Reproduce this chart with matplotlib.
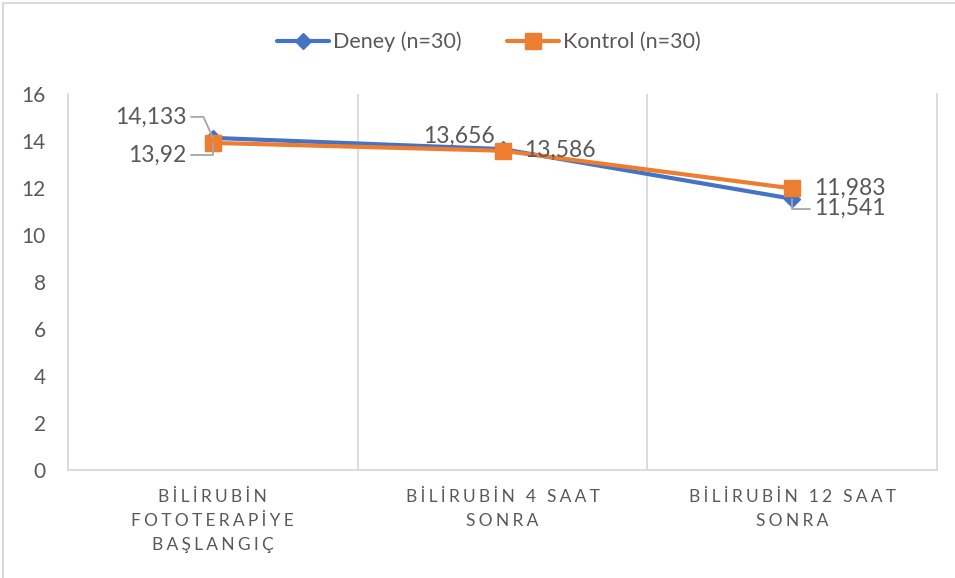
import matplotlib
matplotlib.use("Agg")
import matplotlib.pyplot as plt
from matplotlib.patches import Rectangle

# Bilirubin measurements (mean values)
categories = ["BİLİRUBİN\nFOTOTERAPİYE\nBAŞLANGIÇ",
              "BİLİRUBİN 4 SAAT\nSONRA",
              "BİLİRUBİN 12 SAAT\nSONRA"]
deney = [14.133, 13.656, 11.541]
kontrol = [13.92, 13.586, 11.983]
series_names = ["Deney (n=30)", "Kontrol (n=30)"]
y_ticks = [0, 2, 4, 6, 8, 10, 12, 14, 16]

BLUE = "#4472C4"
ORANGE = "#ED7D31"
TEXT = "#595959"
GRID = "#D9D9D9"

plt.rcParams["font.family"] = ["Lato", "DejaVu Sans"]

W, H = 955, 578
fig = plt.figure(figsize=(W / 100, H / 100), dpi=100)
ax = fig.add_axes([68 / W, (H - 470) / H, (937 - 68) / W, (470 - 94) / H])

GAP = "\u2009\u200a"


def spaced(label):
    # widen letter spacing of the category captions
    out = []
    for line in label.split("\n"):
        words = [GAP.join(w) for w in line.split(" ")]
        out.append((GAP + " " + GAP).join(words))
    return "\n".join(out)


x = list(range(len(categories)))
ax.plot(x, deney, color=BLUE, lw=3.0, marker="D", ms=8, mfc=BLUE, mec=BLUE,
        label=series_names[0], zorder=3, solid_capstyle="round")
ax.plot(x, kontrol, color=ORANGE, lw=3.0, marker="s", ms=11, mfc=ORANGE, mec=ORANGE,
        label=series_names[1], zorder=4, solid_capstyle="round")

ax.set_xlim(-0.5, len(categories) - 0.5)
ax.set_ylim(0, 16)
ax.set_yticks(y_ticks)
ax.set_yticklabels([str(t) for t in y_ticks])
ax.set_xticks(x)
ax.set_xticklabels([spaced(c) for c in categories], fontsize=12.5, color=TEXT,
                   linespacing=1.6)
ax.tick_params(axis="x", length=0, pad=14)
ax.tick_params(axis="y", length=0, pad=16, labelsize=15, labelcolor=TEXT)

# category separators
for b in [0.5, 1.5]:
    ax.axvline(b, color=GRID, lw=1.3, zorder=1)
ax.spines["top"].set_visible(False)
for side in ["left", "right", "bottom"]:
    ax.spines[side].set_color(GRID)
    ax.spines[side].set_linewidth(1.3)


def fmt(v):
    return f"{v:g}".replace(".", ",")


lab_kw = dict(textcoords="offset pixels", fontsize=16.5, color=TEXT, zorder=5)
lead = dict(arrowstyle="-", color="#A6A6A6", lw=1.3, shrinkA=1, shrinkB=0)

# start point labels
ax.annotate(fmt(deney[0]), xy=(0, deney[0]), xytext=(-26, 21), ha="right", va="center",
            arrowprops=dict(lead, connectionstyle="angle,angleA=0,angleB=114,rad=0",
                            relpos=(1, 0.5)), **lab_kw)
ax.annotate(fmt(kontrol[0]), xy=(0, kontrol[0]), xytext=(-26, -12), ha="right", va="center",
            arrowprops=dict(lead, connectionstyle="angle,angleA=0,angleB=90,rad=0",
                            relpos=(1, 0.5)), **lab_kw)
# 4 h labels
ax.annotate(fmt(deney[1]), xy=(1, deney[1]), xytext=(-8, 13), ha="right", va="center",
            **lab_kw)
ax.annotate(fmt(kontrol[1]), xy=(1, kontrol[1]), xytext=(22, 0), ha="left", va="center",
            **lab_kw)
# 12 h labels
ax.annotate(fmt(kontrol[2]), xy=(2, kontrol[2]), xytext=(22, 0), ha="left", va="center",
            **lab_kw)
ax.annotate(fmt(deney[2]), xy=(2, deney[2]), xytext=(22, -10), ha="left", va="center",
            arrowprops=dict(lead, connectionstyle="angle,angleA=180,angleB=90,rad=0",
                            relpos=(0, 0.5)), **lab_kw)

fig.legend(loc="center", bbox_to_anchor=(489 / W, 1 - 42 / H), ncol=2, frameon=False,
           fontsize=15.5, labelcolor=TEXT, handlelength=2.4, handletextpad=0.2,
           columnspacing=2.1)

# chart area border
fig.add_artist(Rectangle((3 / W, -0.2), 1.5, 1.2 - 3 / H, transform=fig.transFigure,
                         fill=False, edgecolor=GRID, lw=1.5))

fig.savefig("out.png", dpi=100, facecolor="white")
